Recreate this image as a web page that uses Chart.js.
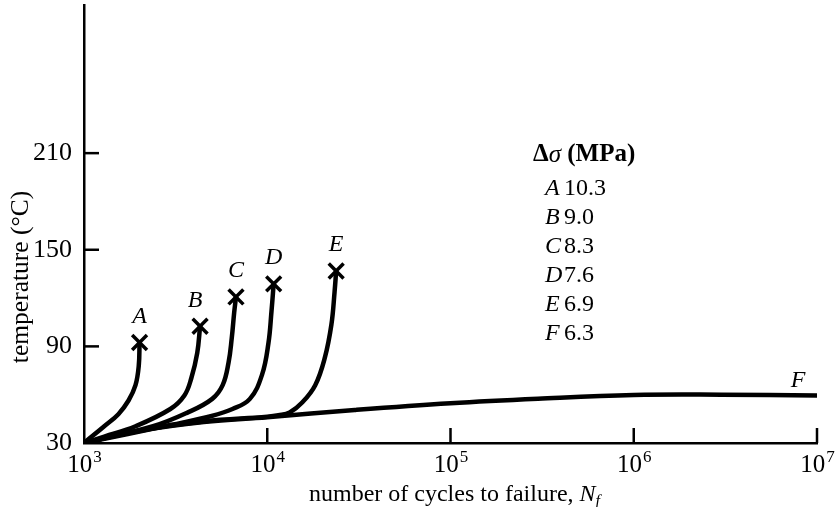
<!DOCTYPE html>
<html><head><meta charset="utf-8">
<script src="https://cdn.jsdelivr.net/npm/chart.js@4"></script>
<style>html,body{margin:0;padding:0;background:#fff}#wrap{width:837px;height:507px}</style>
</head><body><div id="wrap"><canvas id="c" width="837" height="507"></canvas></div>
<script>
// ---- data ----
const seriesNames = ['A', 'B', 'C', 'D', 'E', 'F'];
const stressValues = ['10.3', '9.0', '8.3', '7.6', '6.9', '6.3'];

const cyclesA = [1000, 1290, 1540, 1750, 1910, 1990, 2010];
const tempA   = [30, 40.4, 47.9, 56.4, 65.9, 78, 92.4];

const cyclesB = [1000, 1290, 1910, 2960, 3530, 3850, 4150, 4300];
const tempB   = [30, 34, 40.4, 51.1, 59.5, 70.2, 86, 102.5];

const cyclesC = [1000, 2380, 3690, 5010, 5710, 6150, 6400, 6600, 6750];
const tempC   = [30, 40.4, 49, 57.4, 65.9, 80, 95, 111, 120.7];

const cyclesD = [1000, 3000, 4970, 6460, 8040, 9360, 10150, 10550, 10840];
const tempD   = [30, 41.3, 46.8, 51.1, 57.4, 72.3, 92, 112, 128.8];

const cyclesE = [1000, 2000, 4500, 10000, 11500, 13250, 15560, 18270, 20620, 22390, 23300, 23770];
const tempE   = [30, 37.8, 43.4, 46.3, 47.2, 49, 55.3, 65.9, 83, 103.5, 123.8, 136.8];

const cyclesF = [1000, 2000, 4500, 10000, 30000, 100000, 300000, 1000000, 3000000, 10000000];
const tempF   = [30, 37.5, 43, 46, 50.5, 54.7, 57.5, 59.8, 60, 59.5];

const xTickValues = [1e3, 1e4, 1e5, 1e6, 1e7];
const xTickExponents = ['3', '4', '5', '6', '7'];
const yTickValues = [30, 90, 150, 210];
const yTickLabels = ['30', '90', '150', '210'];

const allCycles = [cyclesA, cyclesB, cyclesC, cyclesD, cyclesE, cyclesF];
const allTemps = [tempA, tempB, tempC, tempD, tempE, tempF];

const SERIF = '"Liberation Serif", "Times New Roman", serif';

const datasets = seriesNames.map((name, i) => ({
  label: name,
  data: allCycles[i].map((c, j) => ({ x: c, y: allTemps[i][j] })),
  borderColor: '#000',
  backgroundColor: '#000',
  borderWidth: 4.5,
  borderCapStyle: 'round',
  borderJoinStyle: 'round',
  tension: 0.4,
  pointStyle: 'crossRot',
  pointBorderWidth: 3.5,
  pointBorderColor: '#000',
  pointRadius: (ctx) => (name !== 'F' && ctx.dataIndex === allCycles[i].length - 1) ? 10.5 : 0,
  fill: false
}));

const decor = {
  id: 'decor',
  afterDraw(chart) {
    const { ctx, chartArea: ca, scales: { x, y } } = chart;
    ctx.save();
    ctx.strokeStyle = '#000';
    ctx.fillStyle = '#000';
    ctx.lineWidth = 2.5;
    // inward tick marks
    xTickValues.slice(1).forEach(v => {
      const px = x.getPixelForValue(v);
      ctx.beginPath(); ctx.moveTo(px, ca.bottom); ctx.lineTo(px, ca.bottom - 15); ctx.stroke();
    });
    yTickValues.slice(1).forEach(v => {
      const py = y.getPixelForValue(v);
      ctx.beginPath(); ctx.moveTo(ca.left, py); ctx.lineTo(ca.left + 15, py); ctx.stroke();
    });
    // y tick labels
    ctx.textAlign = 'right';
    ctx.textBaseline = 'middle';
    ctx.font = '26px ' + SERIF;
    yTickValues.forEach((v, i) => {
      ctx.fillText(yTickLabels[i], ca.left - 12, y.getPixelForValue(v));
    });
    // x tick labels 10^n
    ctx.textAlign = 'left';
    ctx.textBaseline = 'alphabetic';
    xTickValues.forEach((v, i) => {
      const px = x.getPixelForValue(v);
      ctx.font = '25px ' + SERIF;
      const w1 = ctx.measureText('10').width;
      ctx.font = '17px ' + SERIF;
      const w2 = ctx.measureText(xTickExponents[i]).width;
      const start = px - (w1 + w2) / 2;
      ctx.font = '25px ' + SERIF;
      ctx.fillText('10', start, ca.bottom + 29);
      ctx.font = '17px ' + SERIF;
      ctx.fillText(xTickExponents[i], start + w1 + 1, ca.bottom + 19);
    });
    // x title
    const parts = [
      { t: 'number of cycles to failure, ', f: '24px ' + SERIF, dy: 0 },
      { t: 'N', f: 'italic 24px ' + SERIF, dy: 0 },
      { t: 'f', f: 'italic 16px ' + SERIF, dy: 5 }
    ];
    let total = 0;
    parts.forEach(p => { ctx.font = p.f; p.w = ctx.measureText(p.t).width; total += p.w; });
    let cx = (ca.left + ca.right) / 2 + 4 - total / 2;
    parts.forEach(p => { ctx.font = p.f; ctx.fillText(p.t, cx, 501 + p.dy); cx += p.w; });
    // y title
    ctx.save();
    ctx.translate(21, 277);
    ctx.rotate(-Math.PI / 2);
    ctx.textAlign = 'center';
    ctx.textBaseline = 'middle';
    ctx.font = '25.5px ' + SERIF;
    ctx.fillText('temperature (°C)', 0, 0);
    ctx.restore();
    // curve labels
    ctx.font = 'italic 24px ' + SERIF;
    ctx.textAlign = 'center';
    ctx.textBaseline = 'middle';
    seriesNames.forEach((name, i) => {
      const meta = chart.getDatasetMeta(i);
      const el = meta.data[meta.data.length - 1];
      if (name === 'F') {
        ctx.fillText(name, el.x - 19, el.y - 15);
      } else {
        const dx = name === 'B' ? -5 : 0;
        ctx.fillText(name, el.x + dx, el.y - 26);
      }
    });
    // legend block
    ctx.textAlign = 'left';
    ctx.textBaseline = 'middle';
    let hx = 533;
    const head = [
      { t: 'Δ', f: 'bold 25px ' + SERIF },
      { t: 'σ', f: 'italic 25px ' + SERIF },
      { t: ' (MPa)', f: 'bold 25px ' + SERIF }
    ];
    head.forEach(p => { ctx.font = p.f; ctx.fillText(p.t, hx, 155); hx += ctx.measureText(p.t).width; });
    seriesNames.forEach((name, i) => {
      const yy = 189 + i * 29;
      ctx.font = 'italic 24px ' + SERIF;
      ctx.fillText(name, 545, yy);
      ctx.font = '24px ' + SERIF;
      ctx.fillText(stressValues[i], 564, yy);
    });
    ctx.restore();
  }
};

new Chart(document.getElementById('c'), {
  type: 'line',
  data: { datasets },
  options: {
    responsive: false,
    animation: false,
    devicePixelRatio: 1,
    layout: { autoPadding: false, padding: { top: 5, right: 20, left: 0, bottom: 0 } },
    plugins: { legend: { display: false }, tooltip: { enabled: false } },
    scales: {
      x: {
        type: 'logarithmic',
        min: 1000,
        max: 1e7,
        afterBuildTicks: s => { s.ticks = xTickValues.map(v => ({ value: v })); },
        afterFit: s => { s.height = 64; s.paddingLeft = 0; s.paddingRight = 0; },
        ticks: { display: false },
        grid: { display: false },
        border: { display: true, color: '#000', width: 2.5 }
      },
      y: {
        type: 'linear',
        min: 30,
        max: 302,
        afterBuildTicks: s => { s.ticks = yTickValues.map(v => ({ value: v })); },
        afterFit: s => { s.width = 84; s.paddingTop = 0; s.paddingBottom = 0; },
        ticks: { display: false },
        grid: { display: false },
        border: { display: true, color: '#000', width: 2.5 }
      }
    }
  },
  plugins: [decor]
});
</script>
</body></html>
